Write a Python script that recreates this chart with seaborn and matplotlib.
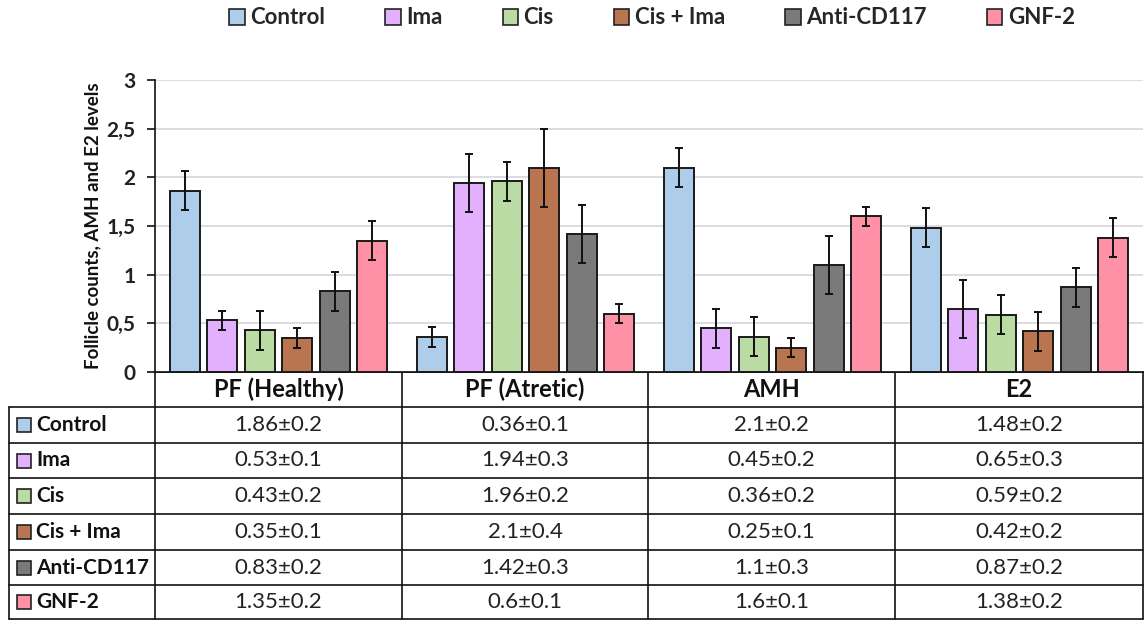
import numpy as np
import pandas as pd
import matplotlib
matplotlib.use("Agg")
import matplotlib.pyplot as plt
from matplotlib.patches import Rectangle
from matplotlib.lines import Line2D
import seaborn as sns

categories = ["PF (Healthy)", "PF (Atretic)", "AMH", "E2"]
groups = ["Control", "Ima", "Cis", "Cis + Ima", "Anti-CD117", "GNF-2"]
means = {
    "Control":    [1.86, 0.36, 2.1, 1.48],
    "Ima":        [0.53, 1.94, 0.45, 0.65],
    "Cis":        [0.43, 1.96, 0.36, 0.59],
    "Cis + Ima":  [0.35, 2.1, 0.25, 0.42],
    "Anti-CD117": [0.83, 1.42, 1.1, 0.87],
    "GNF-2":      [1.35, 0.6, 1.6, 1.38],
}
errors = {
    "Control":    [0.2, 0.1, 0.2, 0.2],
    "Ima":        [0.1, 0.3, 0.2, 0.3],
    "Cis":        [0.2, 0.2, 0.2, 0.2],
    "Cis + Ima":  [0.1, 0.4, 0.1, 0.2],
    "Anti-CD117": [0.2, 0.3, 0.3, 0.2],
    "GNF-2":      [0.2, 0.1, 0.1, 0.2],
}
colors = ["#AECDEA", "#E2B0FD", "#BADBA3", "#B97450", "#7A7A7A", "#FF91A6"]
y_ticks = [0, 0.5, 1, 1.5, 2, 2.5, 3]
y_label = "Follicle counts, AMH and E2 levels"

sns.set_theme(style="white")
FONT = ["Lato", "DejaVu Sans"]
plt.rcParams["font.family"] = FONT

rows = []
for g in groups:
    for c, m, e in zip(categories, means[g], errors[g]):
        rows.append({"cat": c, "group": g, "mean": m, "err": e})
df = pd.DataFrame(rows)

W, H = 1146, 621
fig = plt.figure(figsize=(W / 100, H / 100), dpi=100)

x0, x1 = 155, 1143
y_top, y_bot = 80, 372
ax = fig.add_axes([x0 / W, 1 - y_bot / H, (x1 - x0) / W, (y_bot - y_top) / H])

sns.barplot(data=df, x="cat", y="mean", hue="group", order=categories,
            hue_order=groups, palette=colors, saturation=1, width=0.91, gap=0.2,
            errorbar=None, edgecolor="#1a1a1a", linewidth=1.4,
            legend=False, ax=ax, zorder=3)

for gi, g in enumerate(groups):
    cont = ax.containers[gi]
    for ci, patch in enumerate(cont.patches):
        xc = patch.get_x() + patch.get_width() / 2
        ax.errorbar(xc, means[g][ci], yerr=errors[g][ci], fmt="none",
                    ecolor="#111111", elinewidth=1.4, capsize=3,
                    capthick=1.4, zorder=4)

ax.set_ylim(0, 3)
ax.set_xlim(-0.5, len(categories) - 0.5)
ax.set_yticks(y_ticks)
ax.set_yticklabels([("%g" % v).replace(".", ",") for v in y_ticks],
                   fontsize=15, fontweight="bold", color="#222222")
ax.set_xticks([])
ax.set_xlabel("")
ax.set_ylabel(y_label, fontsize=13.5, fontweight="bold", color="#111111", labelpad=4)
ax.yaxis.grid(True, color="#DADDE2", linewidth=1.4, zorder=0)
ax.set_axisbelow(True)
for s in ["top", "right"]:
    ax.spines[s].set_visible(False)
ax.spines["left"].set_color("#111111")
ax.spines["left"].set_linewidth(1.2)
ax.spines["bottom"].set_color("#111111")
ax.spines["bottom"].set_linewidth(1.2)
ax.tick_params(axis="y", which="major", left=True, length=6, width=1.2,
               color="#111111", pad=8)

tab = fig.add_axes([0, 0, 1, 1], zorder=-1)
tab.set_xlim(0, W)
tab.set_ylim(H, 0)
tab.axis("off")
col_x = [155, 402, 648, 895, 1143]
row_y = [372, 407, 443, 478, 514, 550, 585, 619]
lc = "#111111"
lw = 1.2
for x in col_x:
    tab.add_line(Line2D([x, x], [row_y[0], row_y[-1]], color=lc, lw=lw))
tab.add_line(Line2D([9, 9], [row_y[1], row_y[-1]], color=lc, lw=lw))
tab.add_line(Line2D([col_x[0], col_x[-1]], [row_y[0], row_y[0]], color=lc, lw=lw))
for y in row_y[1:]:
    tab.add_line(Line2D([9, col_x[-1]], [y, y], color=lc, lw=lw))
for ci, c in enumerate(categories):
    xm = (col_x[ci] + col_x[ci + 1]) / 2
    ym = (row_y[0] + row_y[1]) / 2
    tab.text(xm, ym, c, ha="center", va="center", fontsize=17,
             fontweight="bold", color="#111111")
for gi, g in enumerate(groups):
    ym = (row_y[gi + 1] + row_y[gi + 2]) / 2
    tab.add_patch(Rectangle((17, ym - 7), 14, 14, facecolor=colors[gi],
                            edgecolor="#222222", lw=1.2))
    tab.text(36, ym, g, ha="left", va="center", fontsize=15,
             fontweight="bold", color="#111111")
    for ci in range(len(categories)):
        xm = (col_x[ci] + col_x[ci + 1]) / 2
        tab.text(xm, ym, "%g\u00b1%g" % (means[g][ci], errors[g][ci]),
                 ha="center", va="center", fontsize=16, color="#222222")

handles = [Rectangle((0, 0), 1, 1, facecolor=colors[i], edgecolor="#222222", lw=1.2)
           for i in range(len(groups))]
leg = fig.legend(handles, groups, loc="center", ncol=6,
                 bbox_to_anchor=(652 / W, 1 - 18 / H), frameon=False,
                 prop={"family": FONT, "weight": "bold", "size": 16},
                 handlelength=0.7, handleheight=0.7, handletextpad=0.25,
                 columnspacing=2.7)

fig.savefig("out.png", dpi=100)
